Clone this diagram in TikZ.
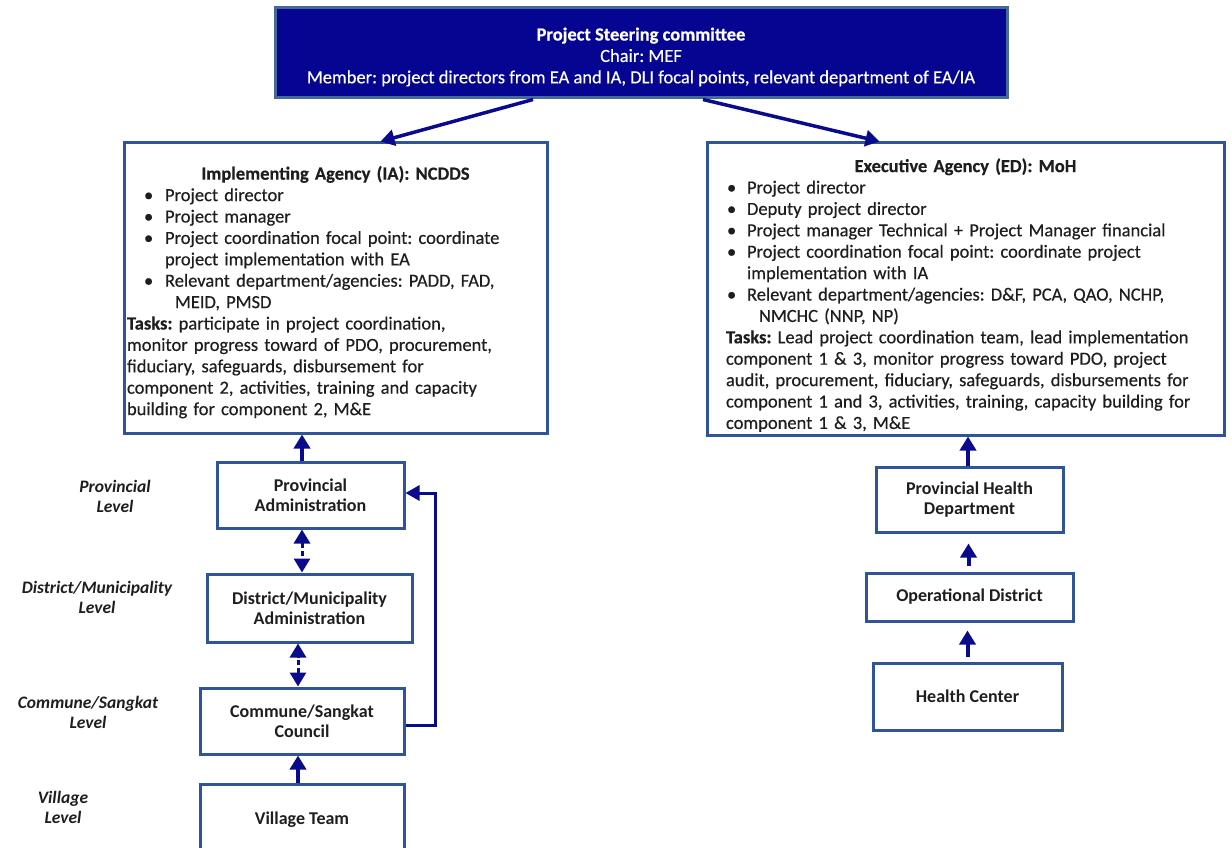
\documentclass[tikz,border=0pt]{standalone}
\usepackage{fontspec}
\setmainfont{Carlito}
\newfontfamily\bodyfont{Carlito}[FakeBold=0.4]
\usetikzlibrary{arrows.meta}
\frenchspacing

\definecolor{boxblue}{RGB}{47,85,151}
\definecolor{topfill}{RGB}{5,5,145}
\definecolor{topline}{RGB}{70,105,155}
\definecolor{arrowblue}{RGB}{10,10,140}
\definecolor{txt}{RGB}{30,30,30}

\newcommand{\bulIA}{\hspace*{17pt}\makebox[21pt][l]{\textbullet}}
\newcommand{\bulED}{\hspace*{1pt}\makebox[20pt][l]{\textbullet}}

\begin{document}
\begin{tikzpicture}[x=1pt,y=-1pt,
	body/.style={font=\bodyfont\fontsize{18.5}{21.4}\selectfont},
	big/.style={draw=boxblue, line width=3pt, text=txt, body, align=left, inner ysep=0pt},
	box/.style={draw=boxblue, line width=3pt, text=txt, inner sep=0pt, align=center,
		font=\bfseries\fontsize{18}{20.5}\selectfont},
	level/.style={text=txt, align=center, font=\bfseries\itshape\fontsize{17.5}{20}\selectfont},
	tip/.style={-{Triangle[width=16pt,length=14pt]}},
	up/.style={draw=arrowblue, line width=4pt, tip},
	both/.style={draw=arrowblue, line width=3pt, dash pattern=on 5pt off 3pt,
		{Triangle[width=16pt,length=14pt]}-{Triangle[width=16pt,length=14pt]}},
	feed/.style={draw=arrowblue, line width=3pt, -{Triangle[width=15pt,length=14pt]}}
	]
	\useasboundingbox (0,0) rectangle (1232,848);
	\clip (0,0) rectangle (1232,848);
	\fill[white] (0,0) rectangle (1232,848);
	
	% steering committee
	\node (psc) at (641,53) [draw=topline, line width=3pt, fill=topfill, text=white, body,
		minimum width=732pt, minimum height=90pt, align=center]
		{\rule{0pt}{21pt}\textbf{Project Steering committee}\\ Chair: MEF\\
		Member: project directors from EA and IA, DLI focal points, relevant department of EA/IA};
	
	% agencies
	\node (ia) at (335.5,288) [big, minimum width=423pt, minimum height=290pt,
		text width=417pt, inner xsep=3pt] {%
		\rule{0pt}{22pt}\makebox[\hsize][c]{\textbf{Implementing Agency (IA): NCDDS}}\\
		\bulIA Project director\\
		\bulIA Project manager\\
		\bulIA Project coordination focal point: coordinate\\
		\hspace*{38pt}project implementation with EA\\
		\bulIA Relevant department/agencies: PADD, FAD,\\
		\hspace*{48pt}MEID, PMSD\\
		\textbf{Tasks:} participate in project coordination,\\
		monitor progress toward of PDO, procurement,\\
		fiduciary, safeguards, disbursement for\\
		component 2, activities, training and capacity\\
		building for component 2, M\&E};
	\node (ed) at (965.5,289) [big, minimum width=517pt, minimum height=292pt,
		text width=479pt, inner xsep=19pt] {%
		\rule{0pt}{26pt}\makebox[\hsize][c]{\textbf{Executive Agency (ED): MoH}}\\
		\bulED Project director\\
		\bulED Deputy project director\\
		\bulED Project manager Technical + Project Manager financial\\
		\bulED Project coordination focal point: coordinate project\\
		\hspace*{21pt}implementation with IA\\
		\bulED Relevant department/agencies: D\&F, PCA, QAO, NCHP,\\
		\hspace*{33pt}NMCHC (NNP, NP)\\
		\textbf{Tasks:} Lead project coordination team, lead implementation\\
		component 1 \& 3, monitor progress toward PDO, project\\
		audit, procurement, fiduciary, safeguards, disbursements for\\
		component 1 and 3, activities, training, capacity building for\\
		component 1 \& 3, M\&E};
	
	\draw[up, line width=3.5pt] ([xshift=-108pt]psc.south) -- ([xshift=45pt]ia.north);
	\draw[up, line width=3.5pt] ([xshift=62pt]psc.south) -- ([xshift=-86pt]ed.north);
	
	% NCDDS line
	\node (prov) at (310.5,495) [box, minimum width=187pt, minimum height=66pt] {Provincial\\ Administration};
	\node (dist) at (309.5,608) [box, minimum width=205pt, minimum height=68pt] {District/Municipality\\ Administration};
	\node (comm) at (302,721) [box, minimum width=204pt, minimum height=66pt] {Commune/Sangkat\\ Council};
	\node (vill) at (302,820) [box, minimum width=204pt, minimum height=72pt] {Village Team};
	
	\node (lprov) at (115,496) [level] {Provincial\\ Level};
	\node (ldist) at (97,597) [level] {District/Municipality\\ Level};
	\node (lcomm) at (88,712) [level] {Commune/Sangkat\\ Level};
	\node (lvill) at (63,807) [level] {Village\\ Level};
	
	\draw[up] ([xshift=-8.5pt]prov.north) -- ([xshift=-8.5pt]prov.north |- ia.south);
	\draw[both] ([xshift=-8.5pt]prov.south) -- ([xshift=-8.5pt]prov.south |- dist.north);
	\draw[both] ([xshift=-4pt]comm.north) -- ([xshift=-4pt]comm.north |- dist.south);
	\draw[up] ([xshift=-4pt]vill.north) -- ([xshift=-4pt]vill.north |- comm.south);
	
	\coordinate (bend) at (435,493);
	\draw[feed] ([yshift=-4pt]comm.east) -| (bend) -- (bend -| prov.east);
	
	% MoH line
	\node (phd) at (969.5,499.5) [box, minimum width=187pt, minimum height=65pt] {Provincial Health\\ Department};
	\node (opd) at (969.5,597) [box, minimum width=207pt, minimum height=48pt] {Operational District};
	\node (hc) at (967.5,696.5) [box, minimum width=189pt, minimum height=67pt] {Health Center};
	
	\draw[up] ([xshift=-1.5pt]phd.north) -- ([xshift=-1.5pt]phd.north |- ed.south);
	\draw[up, shorten <=6pt, shorten >=10pt] ([xshift=-1pt]opd.north) -- ([xshift=-1pt]phd.south);
	\draw[up, shorten <=5pt, shorten >=8pt] (hc.north) -- (hc.north |- opd.south);
\end{tikzpicture}
\end{document}
